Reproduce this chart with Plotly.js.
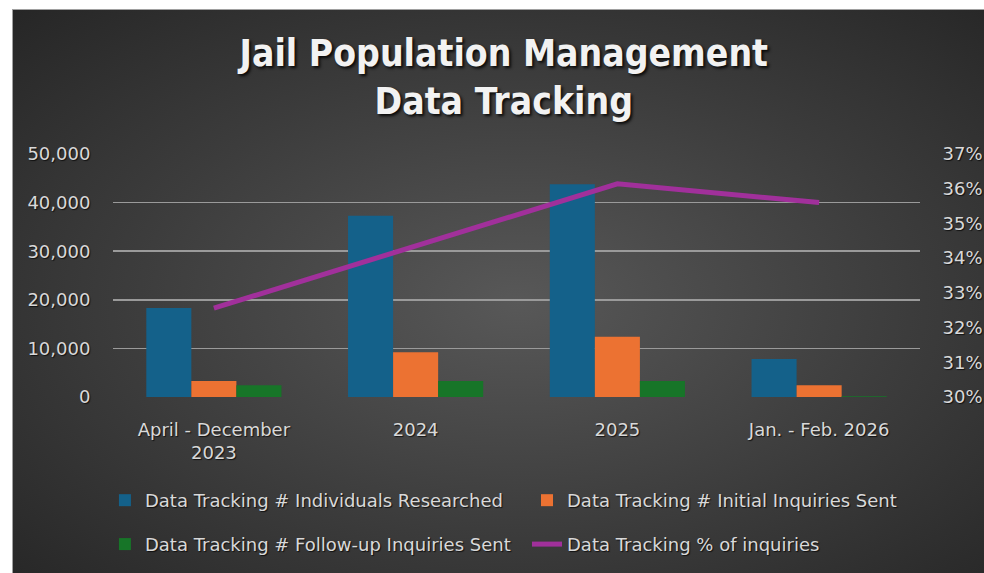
<!DOCTYPE html>
<html>
<head>
<meta charset="utf-8">
<script src="https://cdn.plot.ly/plotly-3.0.1.min.js"></script>
<style>
  html, body { margin: 0; padding: 0; background: #ffffff; width: 984px; height: 573px; overflow: hidden; }
  #bg { position: absolute; left: 12px; top: 9px; width: 972px; height: 564px;
        border-left: 1px solid #a0a0a0; border-top: 1px solid #a0a0a0; box-sizing: border-box;
        background: radial-gradient(ellipse farthest-corner at 52% 52%, #585858 0%, #3c3c3c 55%, #262626 100%); }
  #chart { position: absolute; left: 0; top: 0; width: 984px; height: 573px; }
</style>
</head>
<body>
<div id="bg"></div>
<div id="chart"></div>
<script>
const categories = ["April - December<br>2023", "2024", "2025", "Jan. - Feb. 2026"];
const individualsResearched = [18300, 37300, 43800, 7800];
const initialInquiries = [3300, 9200, 12400, 2400];
const followUpInquiries = [2400, 3300, 3300, 150];
const pctOfInquiries = [32.56, 34.36, 36.14, 35.6];
const seriesNames = [
  "Data Tracking # Individuals Researched",
  "Data Tracking # Initial Inquiries Sent",
  "Data Tracking # Follow-up Inquiries Sent",
  "Data Tracking % of inquiries"
];

const TFONT = "DejaVu Sans Condensed, DejaVu Sans, sans-serif";
const FONT = "DejaVu Sans, sans-serif";
const TXT = "#d9d9d9";
const SHADOW = "1px 1px 1px rgba(0,0,0,0.7)";

const traces = [
  { type: "bar", x: categories, y: individualsResearched, name: seriesNames[0],
    marker: { color: "#14618a" }, legend: "legend" },
  { type: "bar", x: categories, y: initialInquiries, name: seriesNames[1],
    marker: { color: "#ec7232" }, legend: "legend2" },
  { type: "bar", x: categories, y: followUpInquiries, name: seriesNames[2],
    marker: { color: "#177528" }, legend: "legend3" },
  { type: "scatter", mode: "lines", x: categories, y: pctOfInquiries, yaxis: "y2",
    name: seriesNames[3], line: { color: "#a1309b", width: 5 }, legend: "legend4" }
];

function leg(x, y) {
  return { orientation: "h", x: x, y: y, xref: "paper", yref: "paper",
    xanchor: "left", yanchor: "middle", bgcolor: "rgba(0,0,0,0)",
    font: { family: FONT, size: 18, color: TXT, shadow: SHADOW } };
}

const layout = {
  width: 984, height: 573,
  paper_bgcolor: "rgba(0,0,0,0)", plot_bgcolor: "rgba(0,0,0,0)",
  margin: { l: 113, r: 64, t: 154, b: 175 },
  title: {
    text: "Jail Population Management<br>Data Tracking",
    xref: "container", yref: "container", x: 0.512, xanchor: "center",
    y: 0.885, yanchor: "top",
    font: { family: TFONT, size: 37, weight: "bold", color: "#f2f2f2", shadow: "2px 2px 3px rgba(0,0,0,0.85)" }
  },
  barmode: "group", bargap: 0.33, bargroupgap: 0,
  xaxis: {
    type: "category", showgrid: false, zeroline: false, showline: false,
    ticks: "outside", ticklen: 16, tickcolor: "rgba(0,0,0,0)",
    tickfont: { family: FONT, size: 18, color: TXT, shadow: SHADOW }
  },
  yaxis: {
    range: [0, 50000], dtick: 10000, tickformat: ",d",
    showgrid: true, gridcolor: "#9a9a9a", gridwidth: 1.5, zeroline: false, showline: false,
    ticks: "outside", ticklen: 18, tickcolor: "rgba(0,0,0,0)",
    tickfont: { family: FONT, size: 18, color: TXT, shadow: SHADOW }
  },
  yaxis2: {
    overlaying: "y", side: "right", range: [30, 37], dtick: 1, ticksuffix: "%",
    showgrid: false, zeroline: false, showline: false,
    ticks: "outside", ticklen: 18, tickcolor: "rgba(0,0,0,0)",
    tickfont: { family: FONT, size: 18, color: TXT, shadow: SHADOW }
  },
  legend: leg(-0.010, -0.42),
  legend2: leg(0.513, -0.42),
  legend3: leg(-0.010, -0.60),
  legend4: leg(0.513, -0.60),
  showlegend: true
};

Plotly.newPlot("chart", traces, layout, { displayModeBar: false, staticPlot: true });
</script>
</body>
</html>
